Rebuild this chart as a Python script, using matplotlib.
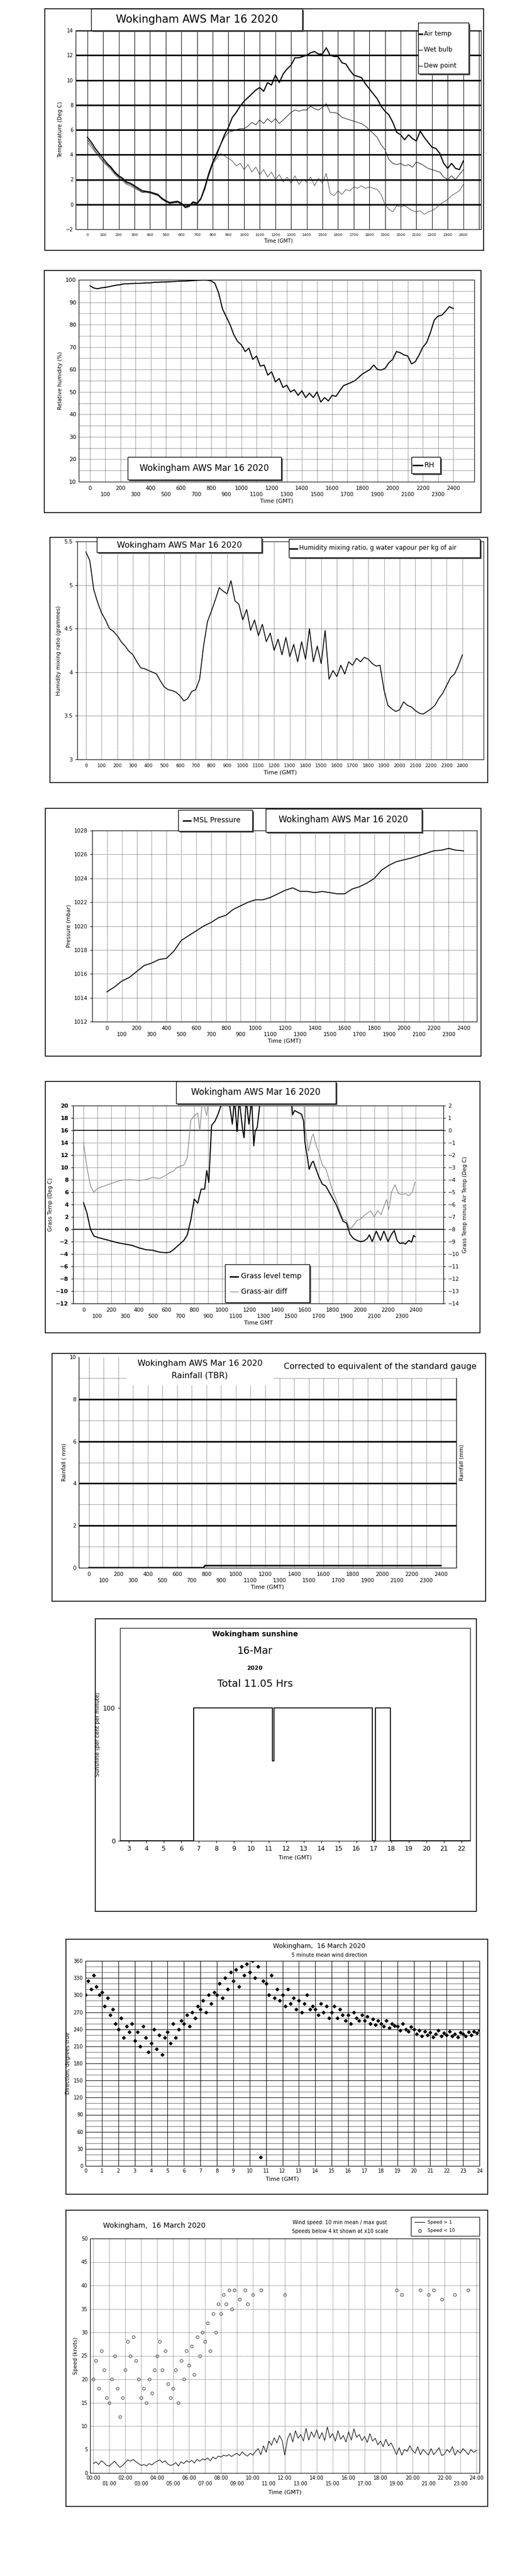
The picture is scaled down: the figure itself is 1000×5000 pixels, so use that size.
import numpy as np
import matplotlib.pyplot as plt
from matplotlib.patches import Rectangle

plt.rcParams['font.family'] = ['Liberation Sans Narrow', 'DejaVu Sans']

# ---------------- data ----------------
# time axis for the AWS panels: hhmm as hundreds (0..2400), every 15 minutes
t25 = list(range(0, 2401, 25))

air_temp = [5.4, 5.0, 4.5, 4.1, 3.7, 3.3, 3.0, 2.6, 2.3, 2.1, 1.8, 1.7, 1.5, 1.3, 1.1, 1.05,
            1.0, 0.9, 0.8, 0.5, 0.3, 0.15, 0.2, 0.25, 0.1, -0.2, -0.1, 0.2, 0.1, 0.5, 1.4, 2.5,
            3.4, 4.1, 4.8, 5.6, 6.2, 7.0, 7.4, 7.9, 8.3, 8.6, 8.9, 9.2, 9.4, 9.1, 9.8, 9.6,
            10.4, 9.8, 10.5, 10.9, 11.2, 11.8, 11.8, 11.9, 12.0, 12.2, 12.3, 12.1, 12.1, 12.6, 12.0, 11.9,
            11.9, 11.4, 11.3, 10.8, 10.4, 10.3, 10.2, 9.7, 9.3, 8.9, 8.5, 7.9, 7.5, 7.2, 6.6, 5.8,
            5.6, 5.2, 5.6, 5.3, 5.1, 5.9, 5.4, 5.0, 4.6, 4.5, 4.1, 3.3, 2.9, 3.3, 2.9, 2.8, 3.5]
wet_bulb = [5.2, 4.8, 4.3, 3.9, 3.5, 3.2, 2.9, 2.5, 2.2, 2.0, 1.7, 1.6, 1.4, 1.2, 1.0, 1.0,
            0.95, 0.85, 0.75, 0.45, 0.25, 0.1, 0.15, 0.2, 0.05, -0.25, -0.15, 0.15, 0.05, 0.45, 1.3, 2.4,
            3.3, 3.9, 4.8, 5.4, 5.8, 5.9, 6.0, 6.1, 6.1, 6.3, 6.6, 6.4, 6.8, 6.5, 6.9, 6.6,
            6.9, 6.5, 6.8, 7.1, 7.4, 7.6, 7.5, 7.6, 7.6, 7.9, 7.7, 7.6, 7.8, 8.1, 7.4, 7.4,
            7.3, 7.0, 6.9, 6.8, 6.7, 6.6, 6.5, 6.3, 6.0, 5.7, 5.4, 4.8, 4.4, 3.6, 3.3, 3.2,
            3.3, 3.1, 3.2, 3.0, 3.4, 3.3, 3.1, 2.9, 2.8, 2.7, 2.6, 2.2, 2.0, 2.3, 2.0, 2.4, 2.8]
dew_point = [5.0, 4.6, 4.2, 3.8, 3.4, 3.1, 2.8, 2.4, 2.1, 1.9, 1.6, 1.5, 1.3, 1.15, 0.95, 0.95,
             0.9, 0.8, 0.7, 0.4, 0.2, 0.05, 0.1, 0.15, 0.0, -0.3, -0.2, 0.1, 0.0, 0.4, 1.2, 2.3,
             3.2, 3.7, 4.1, 3.9, 3.7, 3.5, 3.1, 3.3, 2.8, 3.2, 2.6, 3.0, 2.4, 2.8, 2.2, 2.6,
             2.0, 2.4, 1.8, 2.2, 1.7, 2.3, 1.6, 2.0, 1.8, 2.2, 1.5, 2.1, 1.7, 2.5, 0.9, 0.7,
             1.1, 0.8, 1.2, 1.1, 1.4, 1.3, 1.5, 1.3, 1.4, 1.3, 1.2, 0.8, 0.0, -0.4, -0.6, -0.1,
             -0.2, -0.1, -0.3, -0.5, -0.6, -0.5, -0.8, -0.6, -0.5, -0.3, 0.0, 0.2, 0.4, 0.7, 0.9, 1.1, 1.6]

rel_hum = [97.3, 96.3, 96.0, 96.4, 96.6, 96.9, 97.3, 97.6, 97.8, 98.2, 98.2, 98.3, 98.4, 98.4, 98.5, 98.6,
           98.6, 98.9, 98.9, 99.0, 99.0, 99.1, 99.2, 99.3, 99.4, 99.4, 99.5, 99.6, 99.7, 99.8, 99.9, 99.8,
           99.5, 98.4, 94.0, 87.0, 83.5, 80.0, 75.5, 72.5, 71.0, 68.0, 69.5, 64.5, 66.0, 61.5, 62.0, 57.5,
           59.0, 54.5, 56.0, 52.0, 53.0, 50.0, 51.0, 48.5, 50.5, 47.5, 49.5, 47.5, 50.0, 45.5, 47.5, 46.0,
           48.5, 48.0, 50.5, 52.8, 53.5, 54.2, 55.0, 56.5, 58.0, 59.0, 60.0, 62.0, 60.0, 59.8, 60.5, 63.0,
           64.5, 68.0, 67.5, 66.5, 66.0, 62.5, 63.5, 66.5, 70.0, 72.0, 76.5, 82.0, 83.8, 84.2, 86.0, 88.0, 87.2]

mix_ratio = [5.38, 5.28, 4.95, 4.80, 4.68, 4.60, 4.50, 4.47, 4.42, 4.35, 4.30, 4.24, 4.20, 4.12, 4.05, 4.04,
             4.02, 4.00, 3.98, 3.90, 3.83, 3.80, 3.79, 3.77, 3.73, 3.67, 3.70, 3.78, 3.80, 3.92, 4.30, 4.58,
             4.70, 4.83, 4.97, 4.93, 4.90, 5.05, 4.82, 4.78, 4.60, 4.72, 4.48, 4.60, 4.42, 4.55, 4.35, 4.45,
             4.25, 4.38, 4.20, 4.40, 4.18, 4.32, 4.12, 4.35, 4.15, 4.50, 4.12, 4.30, 4.10, 4.48, 3.92, 4.02,
             3.95, 4.08, 3.98, 4.12, 4.08, 4.16, 4.12, 4.17, 4.15, 4.10, 4.07, 4.08, 3.80, 3.62, 3.58, 3.55,
             3.57, 3.66, 3.62, 3.60, 3.56, 3.53, 3.52, 3.55, 3.58, 3.62, 3.70, 3.76, 3.85, 3.94, 3.98, 4.08, 4.20]

t50 = list(range(0, 2401, 50))
msl_pressure = [1014.5, 1014.9, 1015.4, 1015.7, 1016.2, 1016.7, 1016.9, 1017.2, 1017.3, 1017.9, 1018.8, 1019.2,
                1019.6, 1020.0, 1020.3, 1020.7, 1020.9, 1021.4, 1021.7, 1022.0, 1022.2, 1022.2, 1022.4, 1022.7,
                1023.0, 1023.2, 1022.9, 1022.9, 1022.8, 1022.9, 1022.8, 1022.7, 1022.7, 1023.1, 1023.3, 1023.6,
                1024.0, 1024.7, 1025.1, 1025.4, 1025.55, 1025.7, 1025.9, 1026.1, 1026.3, 1026.35, 1026.5, 1026.35,
                1026.3]

grass_t = [0, 25, 50, 75, 100, 150, 200, 250, 300, 350, 400, 450, 500, 550, 600, 625, 650, 675, 700, 725,
           750, 775, 800, 825, 850, 875, 890, 905, 925, 950, 975, 1000, 1025, 1050, 1075, 1090, 1110, 1125,
           1150, 1160, 1175, 1195, 1215, 1230, 1240, 1255, 1275, 1300, 1500, 1510, 1525, 1550, 1575, 1590,
           1600, 1615, 1630, 1650, 1660, 1675, 1700, 1725, 1750, 1775, 1800, 1825, 1850, 1875, 1900, 1925,
           1950, 1975, 2000, 2025, 2050, 2065, 2085, 2115, 2145, 2170, 2200, 2225, 2245, 2265, 2285, 2310,
           2325, 2350, 2370, 2385, 2395]
grass_temp = [4.3, 2.6, 0.0, -1.1, -1.3, -1.6, -1.9, -2.2, -2.4, -2.6, -3.0, -3.3, -3.4, -3.7, -3.8, -3.7,
              -3.3, -2.8, -2.3, -1.8, -0.9, 1.5, 4.9, 4.2, 6.5, 6.5, 9.5, 7.6, 16.8, 17.5, 18.8, 20.5,
              22.0, 21.0, 17.0, 21.0, 15.8, 21.0, 16.0, 14.8, 21.0, 17.0, 21.0, 13.5, 15.8, 16.5, 20.5, 22.0,
              22.0, 18.5, 19.2, 18.9, 18.6, 17.5, 14.0, 12.0, 9.7, 10.8, 11.0, 10.0, 8.5, 7.3, 7.0, 6.0,
              5.0, 4.0, 2.6, 1.3, 1.0, -0.8, -1.5, -1.8, -2.0, -1.9, -1.5, -0.9, -2.0, -0.3, -1.8, -0.3,
              -2.0, -0.8, -0.2, -1.8, -2.3, -2.2, -2.4, -1.8, -2.1, -1.0, -1.2]

diff_t = [0, 25, 50, 75, 100, 150, 200, 250, 300, 350, 400, 450, 500, 550, 600, 625, 650, 675, 700, 725,
          750, 775, 800, 825, 840, 860, 890, 905, 915, 1590, 1600, 1625, 1650, 1660, 1675, 1700, 1725, 1750,
          1775, 1800, 1825, 1850, 1875, 1900, 1925, 1950, 1975, 2000, 2025, 2050, 2075, 2100, 2125, 2150,
          2175, 2190, 2205, 2225, 2250, 2275, 2300, 2325, 2350, 2375, 2395]
grass_air_diff = [-1.0, -3.0, -4.5, -5.0, -4.7, -4.5, -4.3, -4.1, -4.0, -4.0, -4.05, -4.0, -3.8, -3.9, -3.6, -3.4,
                  -3.3, -3.0, -2.9, -2.8, -2.2, 0.8, 1.2, 1.4, 0.0, 2.5, 1.2, 2.5, 3.0, 3.0, 0.3, -1.7,
                  -0.5, -0.3, -1.0, -1.8, -2.8, -3.1, -4.0, -4.9, -5.6, -6.5, -7.2, -7.3, -8.0, -7.7, -7.3, -7.2,
                  -6.9, -6.7, -6.5, -7.0, -6.5, -6.8, -6.0, -5.6, -6.4, -5.0, -4.4, -5.1, -5.2, -5.1, -5.3, -5.0, -4.2]

rain_t = [0, 780, 790, 2400]
rain_mm = [0.0, 0.0, 0.1, 0.1]

# sunshine, hours GMT
sun_t = [2.5, 6.7, 6.7, 11.2, 11.2, 11.3, 11.3, 16.9, 16.9, 17.1, 17.1, 17.95, 17.95, 22.5]
sun_pct = [0, 0, 100, 100, 60, 60, 100, 100, 0, 0, 100, 100, 0, 0]

# wind direction, every 10 minutes
wd_deg = [300, 325, 310, 335, 315, 300, 305, 280, 295, 265, 275, 250,
          240, 260, 225, 245, 235, 250, 220, 235, 210, 245, 225, 200,
          215, 240, 205, 230, 195, 225, 235, 215, 250, 225, 240, 255,
          250, 265, 245, 270, 260, 280, 275, 290, 270, 300, 285, 305,
          300, 320, 295, 330, 310, 340, 325, 345, 315, 350, 335, 355,
          340, 360, 330, 350, 15, 325, 320, 300, 335, 295, 310, 290,
          300, 280, 310, 285, 295, 275, 290, 270, 285, 300, 275, 280,
          275, 265, 285, 270, 280, 260, 270, 280, 260, 275, 265, 255,
          265, 250, 270, 260, 255, 265, 255, 262, 250, 258, 248, 255,
          250, 245, 255, 242, 250, 246, 245, 238, 250, 240, 236, 244,
          240, 232, 238, 228, 236, 230, 234, 226, 232, 238, 228, 233,
          230, 236, 228, 232, 226, 234, 232, 228, 235, 230, 236, 233, 238]

# wind speed, every 10 minutes (knots)
wind_speed = [2.0, 2.4, 1.8, 2.6, 2.2, 1.6, 1.5, 2.0, 2.5, 1.8, 1.2, 1.6,
              2.2, 2.8, 2.5, 2.9, 2.4, 2.0, 1.6, 1.8, 1.5, 2.0, 1.7, 2.2,
              2.5, 2.8, 2.2, 2.6, 1.9, 1.6, 1.8, 2.2, 1.5, 2.4, 2.0, 2.6,
              2.3, 2.7, 2.1, 2.9, 2.5, 3.0, 2.8, 3.2, 2.6, 3.4, 3.0, 3.6,
              3.4, 3.8, 3.6, 3.9, 3.5, 3.9, 4.2, 3.7, 4.5, 3.9, 3.6, 4.2,
              3.8, 4.6, 5.2, 3.9, 5.8, 4.4, 6.8, 5.9, 7.5, 6.4, 8.0, 6.9,
              3.8, 7.2, 8.5, 6.6, 9.0, 7.4, 8.2, 6.8, 9.5, 7.0, 8.8, 7.6,
              9.2, 7.3, 8.6, 6.9, 9.8, 7.5, 8.4, 6.8, 9.0, 7.2, 8.0, 6.6,
              8.8, 7.0, 9.4, 7.6, 8.2, 6.9, 7.8, 6.5, 8.4, 6.8, 7.4, 6.0,
              6.8, 5.6, 7.2, 5.8, 6.4, 5.2, 3.9, 5.4, 3.8, 5.0, 4.6, 5.8,
              4.8, 4.2, 5.6, 3.9, 5.0, 4.4, 3.8, 5.2, 3.9, 4.6, 5.4, 3.7,
              4.0, 5.0, 4.4, 5.6, 3.8, 4.8, 4.2, 5.2, 4.6, 3.9, 5.0, 4.4, 4.8]

# ---------------- helpers ----------------
fig = plt.figure(figsize=(10, 50), dpi=100)


def fx(x):
    return x / 1000.0


def fy(y):
    return 1 - y / 5000.0


def axes_px(x0, y0, x1, y1):
    return fig.add_axes([fx(x0), fy(y1), fx(x1) - fx(x0), fy(y0) - fy(y1)])


def frame(x0, y0, x1, y1):
    fig.patches.append(Rectangle((fx(x0), fy(y1)), fx(x1) - fx(x0), fy(y0) - fy(y1), fill=False,
                                 edgecolor='black', lw=1.2, transform=fig.transFigure, zorder=0))


def box(x0, y0, x1, y1, shadow=True):
    w = fx(x1) - fx(x0)
    h = fy(y0) - fy(y1)
    if shadow:
        fig.patches.append(Rectangle((fx(x0) + 0.003, fy(y1) - 0.0006), w, h, facecolor='#555555',
                                     edgecolor='none', transform=fig.transFigure, zorder=5))
    fig.patches.append(Rectangle((fx(x0), fy(y1)), w, h, facecolor='white', edgecolor='black', lw=1,
                                 transform=fig.transFigure, zorder=6))


def ftext(x, y, s, **kw):
    kw.setdefault('ha', 'center')
    kw.setdefault('va', 'center')
    fig.text(fx(x), fy(y), s, zorder=10, **kw)


def key_line(x0, x1, y, **kw):
    fig.lines.append(plt.Line2D([fx(x0), fx(x1)], [fy(y), fy(y)], transform=fig.transFigure,
                                zorder=11, **kw))


def hhmm_ticks(ax, two_rows=True, size=7):
    ax.set_xticks(range(0, 2401, 100))
    if two_rows:
        ax.set_xticklabels([str(v) if v % 200 == 0 else '\n' + str(v) for v in range(0, 2401, 100)])
    else:
        ax.set_xticklabels([str(v) for v in range(0, 2401, 100)])
    ax.tick_params(axis='x', length=0, labelsize=size, pad=6)


ylab_font = dict(family='DejaVu Sans', fontsize=7.5)

# ---------------- 1. temperatures ----------------
frame(87, 17, 939, 486)
ax = axes_px(147, 59, 934, 445)
ax.set_xlim(-75, 2513)
ax.set_ylim(-2, 14)
for v in range(0, 15, 2):
    ax.axhline(v, color='black', lw=2.2, zorder=1)
for v in range(0, 2501, 100):
    ax.axvline(v, color='black', lw=0.7, zorder=1)
ax.plot(t25, air_temp, color='black', lw=1.6, zorder=3)
ax.plot(t25, wet_bulb, color='black', lw=0.7, zorder=3)
ax.plot(t25, dew_point, color='#222222', lw=0.6, zorder=3)
ax.set_yticks(range(-2, 15, 2))
ax.tick_params(axis='y', length=0, labelsize=7)
hhmm_ticks(ax, two_rows=False, size=5)
ax.set_ylabel('Temperature (Deg C)', **ylab_font)
ax.set_xlabel('Time (GMT)', fontsize=7, labelpad=2)
box(177, 17, 587, 59)
ftext(382, 38, 'Wokingham AWS Mar 16 2020', fontsize=15)
box(812, 44, 910, 143)
for i, (lab, lw) in enumerate([('Air temp', 2), ('Wet bulb', 0.8), ('Dew point', 0.8)]):
    yy = 66 + i * 31
    key_line(813, 820, yy, color='black', lw=lw)
    ftext(823, yy, lab, ha='left', fontsize=9)

# ---------------- 2. relative humidity ----------------
frame(86, 525, 934, 995)
ax = axes_px(153, 543, 921, 935)
ax.set_xlim(-75, 2540)
ax.set_ylim(10, 100)
ax.set_yticks(range(10, 101, 10))
ax.set_yticks(range(15, 100, 10), minor=True)
ax.grid(True, which='both', axis='y', color='black', ls=':', lw=0.7)
ax.grid(True, axis='x', color='black', ls=':', lw=0.7)
ax.tick_params(axis='y', which='both', length=0, labelsize=8)
ax.plot(t25, rel_hum, color='black', lw=1.5, zorder=3)
hhmm_ticks(ax, size=7.5)
ax.set_ylabel('Relative humidity (%)', **ylab_font)
ax.set_xlabel('Time (GMT)', fontsize=8, labelpad=2)
box(248, 887, 546, 931)
ftext(397, 909, 'Wokingham AWS Mar 16 2020', fontsize=12)
box(799, 887, 855, 919)
key_line(802, 820, 903, color='black', lw=2)
ftext(824, 903, 'RH', ha='left', fontsize=10)

# ---------------- 3. mixing ratio ----------------
frame(97, 1043, 947, 1519)
ax = axes_px(150, 1051, 939, 1474)
ax.set_xlim(-55, 2535)
ax.set_ylim(3, 5.5)
ax.set_yticks([3, 3.5, 4, 4.5, 5, 5.5])
ax.set_yticklabels(['3', '3.5', '4', '4.5', '5', '5.5'])
ax.grid(True, color='black', ls=':', lw=0.7)
ax.tick_params(axis='y', length=3, labelsize=7.5)
ax.plot(t25, mix_ratio, color='black', lw=1.2, zorder=3)
hhmm_ticks(ax, two_rows=False, size=6.5)
ax.set_ylabel('Humidity mixing ratio (grammes)', **ylab_font)
ax.set_xlabel('Time (GMT)', fontsize=8, labelpad=2)
box(188, 1043, 508, 1072)
ftext(348, 1058, 'Wokingham AWS Mar 16 2020', fontsize=11.5)
box(561, 1046, 932, 1082)
key_line(563, 577, 1065, color='black', lw=2)
ftext(581, 1064, 'Humidity mixing ratio, g water vapour per kg of air', ha='left', fontsize=8.6)

# ---------------- 4. pressure ----------------
frame(88, 1569, 934, 2050)
ax = axes_px(179, 1612, 926, 1983)
ax.set_xlim(-100, 2490)
ax.set_ylim(1012, 1028)
ax.set_yticks(range(1012, 1029, 2))
ax.grid(True, color='black', ls=':', lw=0.7)
ax.tick_params(axis='y', length=3, labelsize=7.5)
ax.plot(t50, msl_pressure, color='black', lw=1.3, zorder=3)
hhmm_ticks(ax, size=7.5)
ax.set_ylabel('Pressure (mbar)', **ylab_font)
ax.set_xlabel('Time (GMT)', fontsize=8, labelpad=2)
box(346, 1572, 490, 1613)
key_line(356, 370, 1593, color='black', lw=2)
ftext(375, 1592, 'MSL Pressure', ha='left', fontsize=10)
box(516, 1570, 819, 1615)
ftext(667, 1591, 'Wokingham AWS Mar 16 2020', fontsize=12)

# ---------------- 5. grass temperature ----------------
frame(88, 2099, 932, 2587)
ax = axes_px(142, 2146, 861, 2530)
ax.set_xlim(-75, 2600)
ax.set_ylim(-12, 20)
ax.set_yticks(range(-12, 21, 2))
ax.grid(True, color='black', ls=':', lw=0.7)
ax.axhline(0, color='black', lw=1.2)
ax.axhline(16, color='black', lw=1.2)
ax.tick_params(axis='y', length=3, labelsize=8)
for lab in ax.get_yticklabels():
    lab.set_fontweight('bold')
ax.plot(grass_t, grass_temp, color='black', lw=1.5, zorder=4)
hhmm_ticks(ax, size=7.5)
ax.set_ylabel('Grass Temp (Deg C)', **ylab_font)
ax.set_xlabel('Time GMT', fontsize=8, labelpad=2)
ax2 = ax.twinx()
ax2.set_ylim(-14, 2)
ax2.set_yticks(range(-14, 3, 1))
ax2.tick_params(axis='y', length=3, labelsize=7.5)
ax2.plot(diff_t, grass_air_diff, color='#888888', lw=1.0, zorder=3)
ax2.set_ylabel('Grass Temp minus Air Temp (Deg C)', **ylab_font)
box(342, 2099, 652, 2142)
ftext(497, 2120, 'Wokingham AWS Mar 16 2020', fontsize=12)
box(437, 2454, 601, 2528)
key_line(447, 462, 2478, color='black', lw=2)
ftext(468, 2477, 'Grass level temp', ha='left', fontsize=10)
key_line(447, 462, 2507, color='#888888', lw=1)
ftext(468, 2507, 'Grass-air diff', ha='left', fontsize=10)

# ---------------- 6. rainfall ----------------
frame(101, 2627, 943, 3108)
ax = axes_px(153, 2634, 886, 3043)
ax.set_xlim(-70, 2505)
ax.set_ylim(0, 10)
ax.set_yticks([0, 2, 4, 6, 8, 10])
ax.set_yticks([1, 3, 5, 7, 9], minor=True)
ax.grid(True, which='minor', axis='y', color='black', ls=':', lw=0.7)
ax.grid(True, axis='x', color='black', ls=':', lw=0.7)
for v in [2, 4, 6, 8]:
    ax.axhline(v, color='black', lw=2.2)
ax.tick_params(axis='y', which='both', length=0, labelsize=7.5)
ax.plot(rain_t, rain_mm, color='black', lw=2.2, zorder=3)
hhmm_ticks(ax, size=7.5)
ax.set_ylabel('Rainfall ( mm)', **ylab_font)
ax.set_xlabel('Time (GMT)', fontsize=8, labelpad=2)
ax.spines['top'].set_visible(False)
ax2 = ax.twinx()
ax2.set_ylim(0, 10)
ax2.set_yticks([])
ax2.spines['top'].set_visible(False)
ax2.set_ylabel('Rainfall (mm)', **ylab_font)
fig.patches.append(Rectangle((fx(245), fy(2688)), fx(532) - fx(245), fy(2628) - fy(2688),
                             facecolor='white', edgecolor='none', transform=fig.transFigure, zorder=6))
fig.patches.append(Rectangle((fx(532), fy(2675)), fx(890) - fx(532), fy(2628) - fy(2675),
                             facecolor='white', edgecolor='none', transform=fig.transFigure, zorder=6))
ftext(388, 2647, 'Wokingham AWS Mar 16 2020', fontsize=11.5)
ftext(388, 2670, 'Rainfall (TBR)', fontsize=11.5)
ftext(738, 2652, 'Corrected to equivalent of the standard gauge', fontsize=11.5)

# ---------------- 7. sunshine ----------------
frame(185, 3142, 925, 3710)
ax = axes_px(233, 3160, 913, 3573)
ax.set_xlim(2.5, 22.5)
ax.set_ylim(0, 160)
ax.set_yticks([0, 100])
ax.set_xticks(range(3, 23))
ax.tick_params(length=3, labelsize=9)
ax.plot(sun_t, sun_pct, color='black', lw=1.3)
ax.set_ylabel('Sunshine (per cent per minute)', **ylab_font)
ax.set_xlabel('Time (GMT)', fontsize=8)
ftext(495, 3172, 'Wokingham sunshine', fontsize=10, fontweight='bold')
ftext(495, 3205, '16-Mar', fontsize=14)
ftext(495, 3238, '2020', fontsize=8, fontweight='bold')
ftext(495, 3268, 'Total 11.05 Hrs', fontsize=14)

# ---------------- 8. wind direction ----------------
frame(128, 3764, 947, 4259)
ax = axes_px(166, 3806, 931, 4204)
wd_hours = [i / 6.0 for i in range(len(wd_deg))]
ax.set_xlim(0, 24)
ax.set_ylim(0, 360)
ax.set_yticks(range(0, 361, 30))
ax.set_yticks(range(0, 361, 10), minor=True)
ax.set_xticks(range(0, 25))
ax.grid(True, which='major', color='black', lw=0.7)
ax.grid(True, which='minor', axis='y', color='black', lw=0.4)
ax.tick_params(which='both', length=0, labelsize=7)
ax.plot(wd_hours, wd_deg, 'D', color='black', ms=3.2, zorder=3)
ax.set_ylabel('Direction, degrees true', **ylab_font)
ax.set_xlabel('Time (GMT)', fontsize=8)
ftext(620, 3778, 'Wokingham,  16 March 2020', fontsize=9)
ftext(640, 3795, '5 minute mean wind direction', fontsize=7)

# ---------------- 9. wind speed ----------------
frame(128, 4290, 947, 4865)
ax = axes_px(175, 4345, 931, 4800)
ws_hours = np.arange(len(wind_speed)) / 6.0
ws_arr = np.array(wind_speed)
low = ws_arr < 4
ax.set_xlim(-0.2, 24.2)
ax.set_ylim(0, 50)
ax.set_yticks(range(0, 51, 5))
ax.set_xticks(range(0, 25))
ax.set_xticklabels(['%02d:00' % h if h % 2 == 0 else '\n%02d:00' % h for h in range(0, 25)])
ax.grid(True, color='black', ls=':', lw=0.6)
ax.tick_params(length=0, labelsize=7)
ax.plot(ws_hours, ws_arr, color='black', lw=0.8)
ax.plot(ws_hours[low], ws_arr[low] * 10, 'o', mfc='none', mec='#444444', ms=4, mew=0.8)
ax.set_ylabel('Speed (knots)', **ylab_font)
ax.set_xlabel('Time (GMT)', fontsize=8)
ftext(300, 4320, 'Wokingham,  16 March 2020', fontsize=10)
ftext(660, 4314, 'Wind speed: 10 min mean / max gust', fontsize=7)
ftext(660, 4331, 'Speeds below 4 kt shown at x10 scale', fontsize=7)
fig.patches.append(Rectangle((fx(798), fy(4340)), fx(931) - fx(798), fy(4303) - fy(4340),
                             facecolor='white', edgecolor='black', lw=0.8, transform=fig.transFigure,
                             zorder=6))
key_line(805, 825, 4313, color='black', lw=0.8)
ftext(830, 4313, 'Speed > 1', ha='left', fontsize=6.5)
fig.lines.append(plt.Line2D([fx(815)], [fy(4330)], marker='o', mfc='none', mec='#444444', ms=4,
                            transform=fig.transFigure, zorder=11))
ftext(830, 4330, 'Speed < 10', ha='left', fontsize=6.5)

fig.savefig('out.png', dpi=100)
